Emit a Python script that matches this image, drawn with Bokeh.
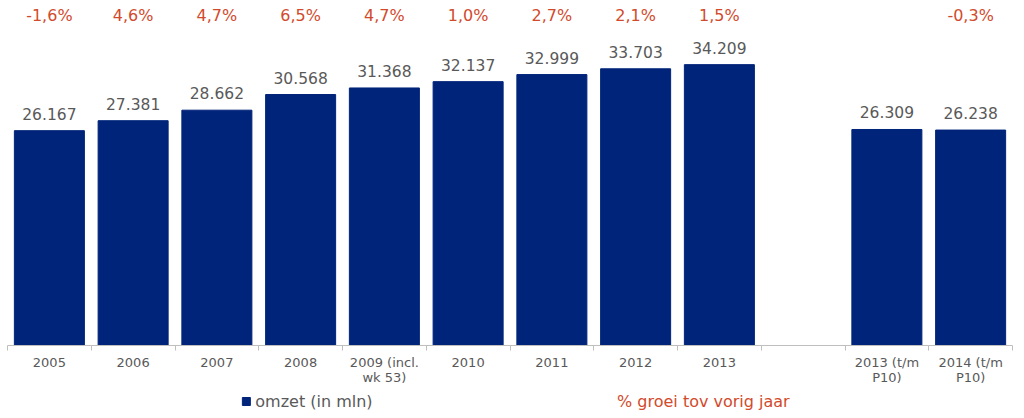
import numpy as np
from bokeh.plotting import figure
from bokeh.layouts import column
from bokeh.models import Range1d, FixedTicker, ColumnDataSource
from bokeh.core.properties import value
from bokeh.embed import file_html
from bokeh.resources import INLINE

categories = ["2005", "2006", "2007", "2008", "2009 (incl.\nwk 53)", "2010", "2011",
              "2012", "2013", "", "2013 (t/m\nP10)", "2014 (t/m\nP10)"]
omzet = [26167, 27381, 28662, 30568, 31368, 32137, 32999, 33703, 34209, None, 26309, 26238]
groei = ["-1,6%", "4,6%", "4,7%", "6,5%", "4,7%", "1,0%", "2,7%", "2,1%", "1,5%", "", "", "-0,3%"]
legend_labels = ["omzet (in mln)", "% groei tov vorig jaar"]

NAVY = "#00247A"
RED = "#D24A2C"
GRAY = "#595959"
FONT = "DejaVu Sans"

n = len(categories)
centers = np.arange(n) + 0.5
bounds = list(np.arange(n + 1).astype(float))

idx = [i for i, v in enumerate(omzet) if v is not None]
bar_src = ColumnDataSource(dict(
    x=[centers[i] for i in idx],
    top=[omzet[i] for i in idx],
    lbl=[f"{omzet[i]/1000:.3f}" for i in idx],
))
pidx = [i for i, g in enumerate(groei) if g]
pct_src = ColumnDataSource(dict(
    x=[centers[i] for i in pidx],
    y=[40200] * len(pidx),
    t=[groei[i] for i in pidx],
))

p = figure(width=1014, height=390, output_backend="svg", toolbar_location=None,
           x_range=Range1d(0, n), y_range=Range1d(0, 42020),
           min_border_left=7, min_border_right=2, min_border_top=0, min_border_bottom=45)
p.outline_line_color = None
p.grid.visible = False
p.yaxis.visible = False

p.vbar(x="x", top="top", width=0.836, source=bar_src, color=NAVY)
p.text(x="x", y="top", text="lbl", source=bar_src, text_align="center",
       text_baseline="bottom", y_offset=-11, text_color=GRAY,
       text_font=value(FONT), text_font_size="15.5px")
p.text(x="x", y="y", text="t", source=pct_src, text_align="center",
       text_baseline="middle", text_color=RED,
       text_font=value(FONT), text_font_size="16px")

ax = p.xaxis[0]
ax.ticker = FixedTicker(ticks=list(centers), minor_ticks=bounds)
ax.major_label_overrides = {float(c): lab for c, lab in zip(centers, categories)}
ax.major_tick_out = 0
ax.major_tick_in = 0
ax.minor_tick_out = 5
ax.minor_tick_in = 0
ax.minor_tick_line_color = "#BFBFBF"
ax.axis_line_color = "#BFBFBF"
ax.major_label_standoff = 4
ax.major_label_text_font = FONT
ax.major_label_text_font_size = "13px"
ax.major_label_text_line_height = 1.0
ax.major_label_text_color = GRAY

# legend row
lg = figure(width=1014, height=28, output_backend="svg", toolbar_location=None,
            x_range=Range1d(0, 1014), y_range=Range1d(0, 28),
            min_border=0, min_border_left=0, min_border_right=0,
            min_border_top=0, min_border_bottom=0)
lg.outline_line_color = None
lg.grid.visible = False
lg.axis.visible = False
lg.scatter(x=[241], y=[17], marker="square", size=8, color=NAVY)
lg.text(x=[250, 615], y=[17, 17], text=legend_labels, text_color=[GRAY, RED],
        text_baseline="middle", text_font=value(FONT), text_font_size="16px")

layout = column(p, lg, spacing=0)
open("out.html", "w").write(file_html(layout, INLINE))
